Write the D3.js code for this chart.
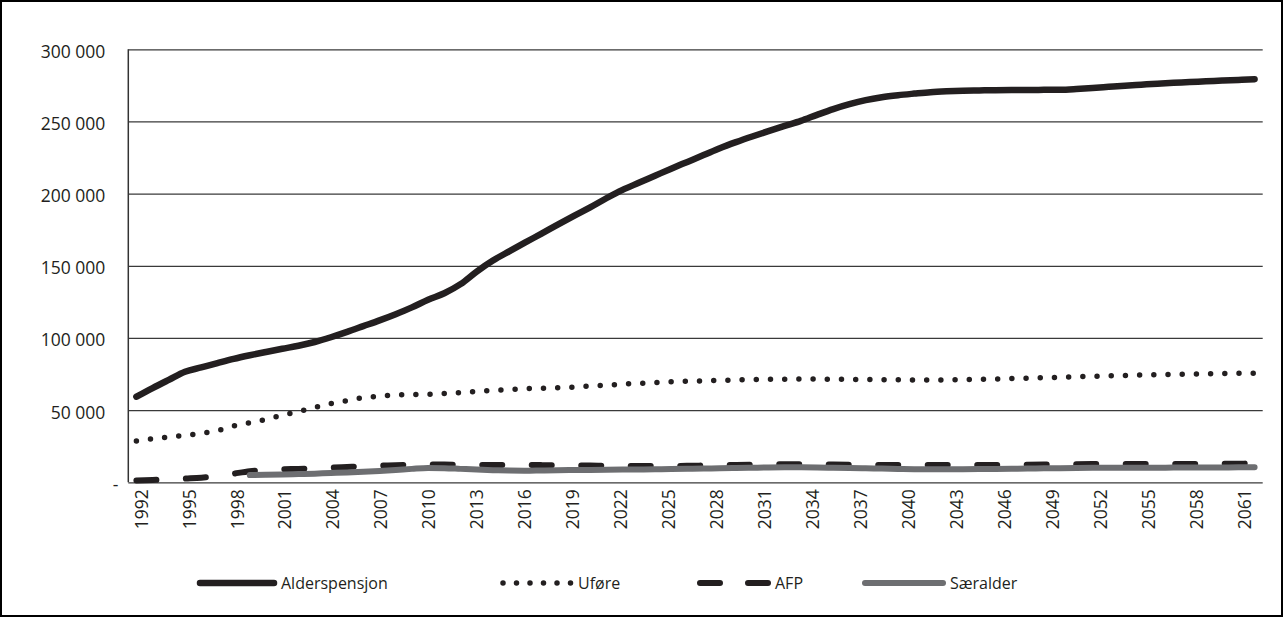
<!DOCTYPE html>
<html><head><meta charset="utf-8">
<script src="https://cdn.jsdelivr.net/npm/d3@7"></script>
<style>
html,body{margin:0;padding:0;background:#fff;}
svg{display:block;}
text{font-family:"Open Sans",sans-serif;fill:#231f20;}
</style></head><body>
<svg id="chart" width="1284" height="619"></svg>
<script>
const years = d3.range(1992, 2062);
const tickYears = [1992,1995,1998,2001,2004,2007,2010,2013,2016,2019,2022,2025,2028,2031,2034,2037,2040,2043,2046,2049,2052,2055,2058,2061];
const yTicks = [0,50000,100000,150000,200000,250000,300000];
const seriesNames = ["Alderspensjon","Uføre","AFP","Særalder"];

const alderspensjon = [
  59300, 65300, 71000, 76600, 79600, 82600, 85500, 88000, 90300, 92500,
  94600, 97200, 100500, 104200, 108200, 112200, 116500, 121200, 126500, 131000,
  137300, 146000, 153600, 160000, 166200, 172300, 178500, 184600, 190500, 196800,
  202600, 207500, 212400, 217300, 222000, 226700, 231500, 235700, 239600, 243300,
  246900, 250400, 254600, 258600, 262000, 264800, 266800, 268200, 269300, 270300,
  270900, 271300, 271500, 271700, 271800, 271800, 271900, 272000, 272500, 273200,
  274000, 274800, 275500, 276200, 276800, 277300, 277800, 278300, 278800, 279300
];
const ufore = [
  28700, 30200, 31400, 32500, 34000, 35800, 39000, 41200, 43600, 46500,
  49100, 51800, 54600, 56600, 58600, 59700, 60600, 60800, 61000, 61500,
  62200, 63000, 63700, 64300, 64800, 65200, 65500, 66000, 66700, 67300,
  68000, 68500, 69100, 69600, 70000, 70300, 70600, 70900, 71100, 71300,
  71400, 71500, 71500, 71400, 71300, 71200, 71100, 71000, 70900, 70900,
  71000, 71100, 71300, 71600, 71900, 72200, 72500, 72800, 73100, 73400,
  73700, 74000, 74300, 74500, 74700, 74900, 75100, 75300, 75500, 75600
];
const afp = [
  1300, 1600, 2000, 2600, 3200, 4200, 6000, 7700, 8500, 9000,
  9300, 9700, 10100, 10600, 11100, 11500, 11900, 12200, 12400, 12300,
  12100, 12000, 12000, 12000, 12000, 11900, 11800, 11700, 11600, 11500,
  11400, 11300, 11300, 11300, 11400, 11600, 11800, 12000, 12200, 12400,
  12500, 12500, 12400, 12300, 12200, 12100, 12000, 11900, 11900, 11900,
  11900, 11900, 11900, 12000, 12100, 12200, 12300, 12400, 12500, 12600,
  12700, 12700, 12700, 12600, 12600, 12600, 12700, 12800, 12900, 13000
];
const saeralder = [
  null, null, null, null, null, null, null, 5000, 5200, 5400,
  5700, 6000, 6400, 6800, 7300, 7800, 8500, 9300, 9900, 9800,
  9300, 8800, 8400, 8100, 8000, 8200, 8400, 8500, 8600, 8700,
  8800, 8900, 9000, 9200, 9400, 9600, 9700, 9900, 10100, 10300,
  10400, 10400, 10300, 10100, 9900, 9700, 9500, 9300, 9100, 9000,
  9000, 9100, 9200, 9300, 9400, 9500, 9700, 9800, 9900, 10000,
  10100, 10100, 10100, 10100, 10200, 10200, 10300, 10300, 10400, 10400
];

const svg = d3.select("#chart");
const L = 128.3, R = 1262.7, T = 49.3, B = 482.3;

// outer frame
svg.append("rect").attr("x",1).attr("y",1).attr("width",1281).attr("height",615)
  .attr("fill","none").attr("stroke","#000").attr("stroke-width",2);

const x = d3.scalePoint().domain(years).range([L, R]).padding(0.5);
const xLab = d3.scalePoint().domain(years).range([141, 1244]).padding(0);
const y = d3.scaleLinear().domain([0, 300000]).range([B, T]);

const fmt = v => v === 0 ? "-" : d3.format(",")(v).replace(/,/g, "\u00a0");

// gridlines + y labels
const gy = svg.append("g").attr("transform", `translate(${L},0)`)
  .call(d3.axisLeft(y).tickValues(yTicks).tickSize(-(R - L)).tickPadding(0).tickFormat(fmt));
gy.select(".domain").remove();
gy.selectAll(".tick line").attr("stroke", "#3a3a3a").attr("stroke-width", 1.3);
gy.selectAll(".tick text")
  .attr("x", d => d === 0 ? -10 : -23)
  .attr("dy", "0.45em")
  .style("font-family", '"Open Sans", sans-serif')
  .style("font-size", "17.5px").attr("fill", "#231f20");

// left axis line
svg.append("line").attr("x1", L).attr("x2", L).attr("y1", T).attr("y2", B)
  .attr("stroke", "#333").attr("stroke-width", 1.5);

// x axis labels
const gx = svg.append("g").attr("transform", `translate(0,${B})`)
  .call(d3.axisBottom(xLab).tickValues(tickYears).tickSize(0).tickFormat(d => String(d)));
gx.select(".domain").remove();
gx.selectAll(".tick text")
  .attr("transform", "rotate(-90)")
  .attr("text-anchor", "end")
  .attr("x", -7).attr("y", 0).attr("dy", "0.35em")
  .style("font-family", '"Open Sans", sans-serif')
  .style("font-size", "17.5px").attr("fill", "#231f20");

const styles = [
  {data: alderspensjon, stroke: "#231f20", width: 6.5, dash: null, cap: "round"},
  {data: ufore, stroke: "#231f20", width: 5.5, dash: "0 14.2", cap: "round"},
  {data: afp, stroke: "#231f20", width: 6, dash: "20 29.5", cap: "round"},
  {data: saeralder, stroke: "#6d6e71", width: 6, dash: null, cap: "round"}
];

const line = d3.line()
  .defined(d => d[1] != null)
  .x(d => x(d[0])).y(d => y(d[1]))
  .curve(d3.curveMonotoneX);

styles.forEach(s => {
  const pts = years.map((yr, i) => [yr, s.data[i]]).filter(d => d[1] != null);
  svg.append("path").datum(pts)
    .attr("d", line)
    .attr("fill", "none")
    .attr("stroke", s.stroke)
    .attr("stroke-width", s.width)
    .attr("stroke-linecap", s.cap)
    .attr("stroke-linejoin", "round")
    .attr("stroke-dasharray", s.dash);
});

// legend
const legendY = 583;
const legendItems = [
  {name: seriesNames[0], x1: 200, x2: 274, text: 281, s: styles[0]},
  {name: seriesNames[1], x1: 503, x2: 572, text: 578, s: Object.assign({}, styles[1], {dash: "0 13.5"})},
  {name: seriesNames[2], x1: 700, x2: 768, text: 775, s: Object.assign({}, styles[2], {dash: "20 28"})},
  {name: seriesNames[3], x1: 865, x2: 943, text: 950, s: styles[3]}
];
const lg = svg.append("g");
legendItems.forEach(it => {
  lg.append("line").attr("x1", it.x1).attr("x2", it.x2).attr("y1", legendY).attr("y2", legendY)
    .attr("stroke", it.s.stroke).attr("stroke-width", it.s.width)
    .attr("stroke-linecap", it.s.cap).attr("stroke-dasharray", it.s.dash);
  lg.append("text").attr("x", it.text).attr("y", legendY).attr("dy", "0.36em")
    .style("font-size", "16px").text(it.name);
});
</script>
</body></html>
